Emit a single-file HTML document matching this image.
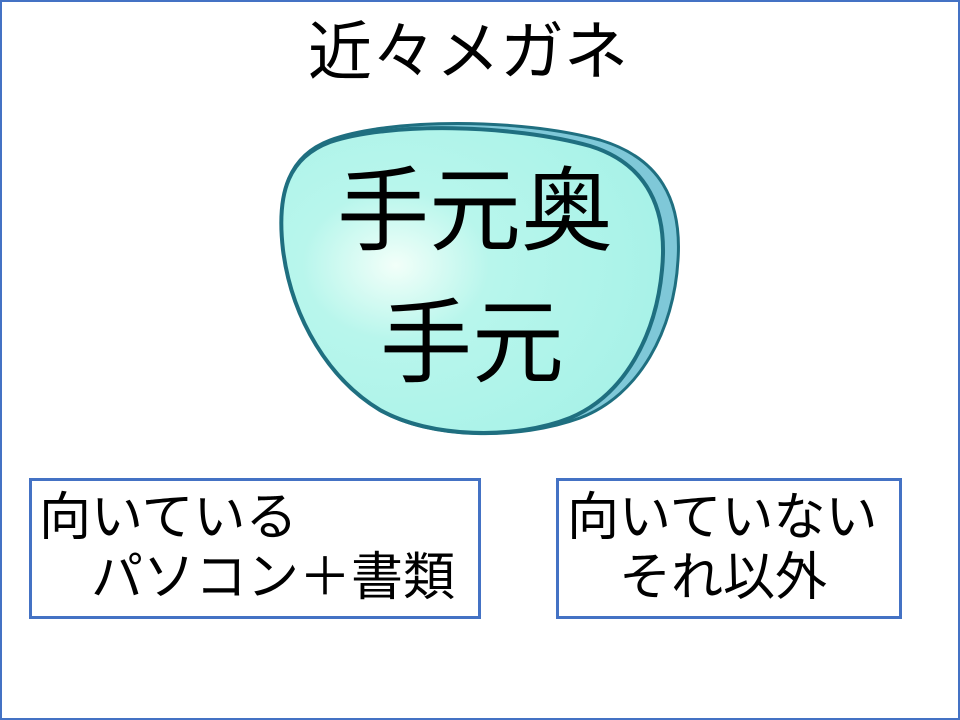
<!DOCTYPE html>
<html><head><meta charset="utf-8"><style>
html,body{margin:0;padding:0;}
body{width:960px;height:720px;position:relative;background:#fff;overflow:hidden;font-family:"Liberation Sans","Noto Sans CJK JP",sans-serif;}
.frame{position:absolute;left:0;top:0;width:956px;height:716px;border:2px solid #4472c4;}
.t{position:absolute;white-space:nowrap;color:#000;line-height:1;}
.box{position:absolute;border:3px solid #4472c4;box-sizing:border-box;background:#fff;}
</style></head><body>
<div class="frame"></div>
<div class="t" style="left:308px;top:20px;font-size:64px;">近々メガネ</div>
<svg style="position:absolute;left:0;top:0" width="960" height="720">
<defs>
<radialGradient id="g" cx="0.3" cy="0.45" r="0.7">
<stop offset="0" stop-color="#f2fff9"/>
<stop offset="0.35" stop-color="#b8f6ec"/>
<stop offset="1" stop-color="#a8f2e8"/>
</radialGradient>
</defs>
<path d="M330,140 C390,118 520,118 600,140 C660,158 682,200 678,260 C674,330 640,395 580,418 C520,440 430,440 380,410 C330,380 292,320 283,250 C276,190 290,155 330,140 Z" fill="#7fc8d8" stroke="#1f6f80" stroke-width="3"/>
<path d="M330,142 C390,122 510,124 590,146 C648,164 668,210 662,270 C656,335 625,395 570,418 C515,440 430,438 380,410 C330,380 292,320 283,250 C276,190 290,157 330,142 Z" fill="url(#g)" stroke="#1f6f80" stroke-width="4"/>
</svg>
<div class="t" style="left:337px;top:166px;font-size:92px;">手元奥</div>
<div class="t" style="left:380px;top:298px;font-size:92px;">手元</div>
<div class="box" style="left:29px;top:478px;width:452px;height:141px;"></div>
<div class="t" style="left:39px;top:492px;font-size:52px;">向いている</div>
<div class="t" style="left:91px;top:552px;font-size:52px;">パソコン＋書類</div>
<div class="box" style="left:556px;top:478px;width:346px;height:141px;"></div>
<div class="t" style="left:567px;top:492px;font-size:52px;">向いていない</div>
<div class="t" style="left:619px;top:552px;font-size:52px;">それ以外</div>
</body></html>
